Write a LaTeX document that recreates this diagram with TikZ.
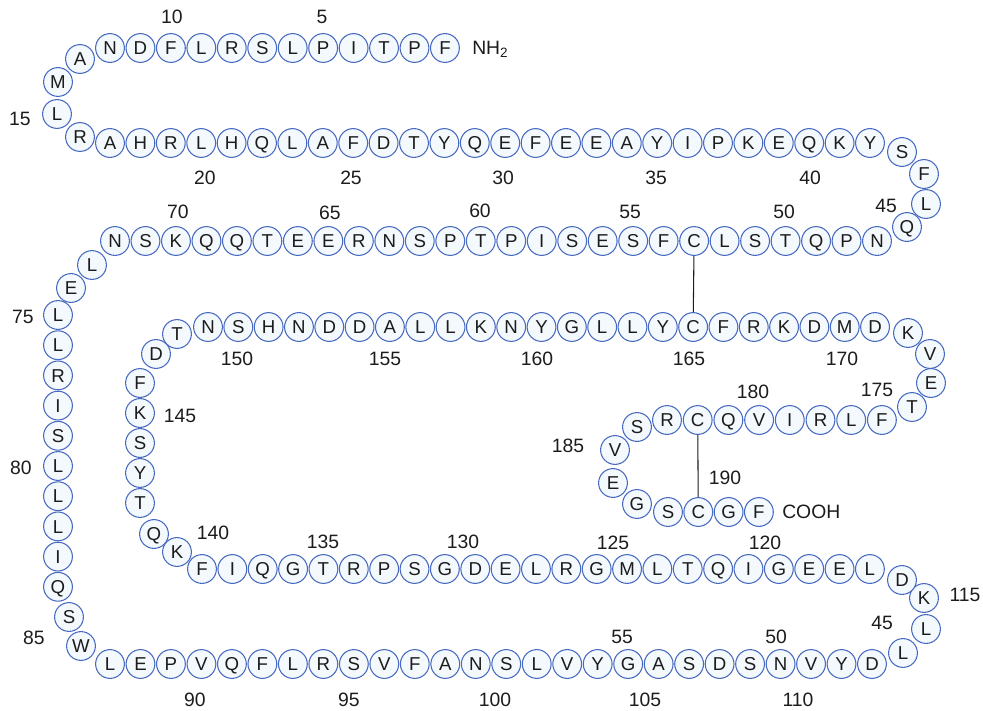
\documentclass[tikz,border=0pt]{standalone}
\usepackage{fontspec}
\setmainfont{Liberation Sans}
\definecolor{rimblue}{RGB}{72,106,192}
\definecolor{cellfill}{RGB}{244,249,253}
\definecolor{inkc}{RGB}{28,28,28}
\tikzset{
  res/.style={circle, draw=rimblue, fill=cellfill, line width=0.8pt, minimum size=21.6pt,
    inner sep=0pt, font=\fontsize{14}{14}\selectfont, text=inkc, text height=10pt, text depth=0pt},
  num/.style={font=\fontsize{14.5}{15}\selectfont, text=inkc, inner sep=0pt},
  bond/.style={draw=inkc, line width=0.8pt},
}
\begin{document}
\begin{tikzpicture}[x=0.75pt,y=-0.75pt]
\useasboundingbox (0,0) rectangle (983,711);
% row 1
\foreach \l [count=\k from 0] in {N,D,F,L,R,S,L,P,I,T,P,F}{
  \pgfmathtruncatemacro\n{12-\k}
  \node[res] (r\n) at ({110+30.45*\k},48) {\l};}
\node[res] (r13) at (80,59) {A};
\node[res] (r14) at (58,82) {M};
\node[res] (r15) at (57,114) {L};
\node[res] (r16) at (80,137) {R};
% row 2
\foreach \l [count=\k from 0] in {A,H,R,L,H,Q,L,A,F,D,T,Y,Q,E,F,E,E,A,Y,I,P,K,E,Q,K,Y}{
  \pgfmathtruncatemacro\n{17+\k}
  \node[res] (r\n) at ({110+30.4*\k},143) {\l};}
\node[res] (r43) at (902,152) {S};
\node[res] (r44) at (924,174) {F};
\node[res] (r45) at (926,204) {L};
\node[res] (r46) at (907,227) {Q};
% row 3
\foreach \l [count=\k from 0] in {N,S,K,Q,Q,T,E,E,R,N,S,P,T,P,I,S,E,S,F,C,L,S,T,Q,P,N}{
  \pgfmathtruncatemacro\n{72-\k}
  \node[res] (r\n) at ({115+30.48*\k},241) {\l};}
\node[res] (r73) at (92,265) {L};
\node[res] (r74) at (71,288) {E};
\foreach \l [count=\k from 0] in {L,L,R,I,S,L,L,L,I,Q}{
  \pgfmathtruncatemacro\n{75+\k}
  \node[res] (r\n) at (58,{315+30.2*\k}) {\l};}
\node[res] (r85) at (69,617) {S};
\node[res] (r86) at (81,646) {W};
% bottom row
\foreach \l [count=\k from 0] in {L,E,P,V,Q,F,L,R,S,V,F,A,N,S,L,V,Y,G,A,S,D,S,N,V,Y,D}{
  \pgfmathtruncatemacro\n{87+\k}
  \node[res] (r\n) at ({110+30.48*\k},664) {\l};}
\node[res] (r113) at (903,653) {L};
\node[res] (r114) at (926,629) {L};
\node[res] (r115) at (924,598) {K};
\node[res] (r116) at (902,580) {D};
% row 5
\foreach \l [count=\k from 0] in {F,I,Q,G,T,R,P,S,G,D,E,L,R,G,M,L,T,Q,I,G,E,E,L}{
  \pgfmathtruncatemacro\n{139-\k}
  \node[res] (r\n) at ({202+30.36*\k},569) {\l};}
\node[res] (r140) at (177,552) {K};
\node[res] (r141) at (154,534) {Q};
\foreach \l [count=\k from 0] in {T,Y,S,K,F}{
  \pgfmathtruncatemacro\n{142+\k}
  \node[res] (r\n) at (140,{503-30*\k}) {\l};}
\node[res] (r147) at (156,354) {D};
\node[res] (r148) at (177,334) {T};
% row 6
\foreach \l [count=\k from 0] in {N,S,H,N,D,D,A,L,L,K,N,Y,G,L,L,Y,C,F,R,K,D,M,D}{
  \pgfmathtruncatemacro\n{149+\k}
  \node[res] (r\n) at ({208+30.32*\k},327) {\l};}
\node[res] (r172) at (908,333) {K};
\node[res] (r173) at (930,354) {V};
\node[res] (r174) at (931,383) {E};
\node[res] (r175) at (912,407) {T};
% row 7
\foreach \l [count=\k from 0] in {R,C,Q,V,I,R,L,F}{
  \pgfmathtruncatemacro\n{183-\k}
  \node[res] (r\n) at ({667+30.7*\k},420) {\l};}
\node[res] (r184) at (637,427) {S};
\node[res] (r185) at (615,450) {V};
\node[res] (r186) at (613,483) {E};
\node[res] (r187) at (637,504) {G};
\foreach \l [count=\k from 0] in {S,C,G,F}{
  \pgfmathtruncatemacro\n{188+\k}
  \node[res] (r\n) at ({668+30.3*\k},512) {\l};}
% disulfide bonds
\draw[bond] (r53) -- (r165);
\draw[bond] (r182) -- (r189);
% termini
\node[num, anchor=west] (nterm) at (472,49) {NH\textsubscript{2}};
\node[num, anchor=west] (cterm) at (782,512) {COOH};
% numbers
\node[num] (n5) at (322,17) {5};
\node[num] (n10) at (172,17) {10};
\node[num] (n15) at (20,119) {15};
\node[num] (n20) at (205,178) {20};
\node[num] (n25) at (351,178) {25};
\node[num] (n30) at (503,178) {30};
\node[num] (n35) at (656,178) {35};
\node[num] (n40) at (810,178) {40};
\node[num] (n45a) at (886,206) {45};
\node[num] (n50a) at (784,212) {50};
\node[num] (n55a) at (630,212) {55};
\node[num] (n60) at (480,211) {60};
\node[num] (n65) at (330,213) {65};
\node[num] (n70) at (178,212) {70};
\node[num] (n75) at (23,317) {75};
\node[num] (n80) at (21,468) {80};
\node[num] (n85) at (34,638) {85};
\node[num] (n90) at (195,700) {90};
\node[num] (n95) at (349,700) {95};
\node[num] (n100) at (495,700) {100};
\node[num] (n105) at (645,700) {105};
\node[num] (n110) at (798,700) {110};
\node[num] (n55b) at (622,637) {55};
\node[num] (n50b) at (776,637) {50};
\node[num] (n45b) at (882,623) {45};
\node[num] (n115) at (965,595) {115};
\node[num] (n120) at (765,543) {120};
\node[num] (n125) at (613,543) {125};
\node[num] (n130) at (463,542) {130};
\node[num] (n135) at (323,542) {135};
\node[num] (n140) at (213,533) {140};
\node[num] (n145) at (180,416) {145};
\node[num] (n150) at (237,359) {150};
\node[num] (n155) at (385,359) {155};
\node[num] (n160) at (537,359) {160};
\node[num] (n165) at (689,359) {165};
\node[num] (n170) at (842,359) {170};
\node[num] (n175) at (877,390) {175};
\node[num] (n180) at (753,392) {180};
\node[num] (n185) at (568,446) {185};
\node[num] (n190) at (725,478) {190};
\end{tikzpicture}
\end{document}
